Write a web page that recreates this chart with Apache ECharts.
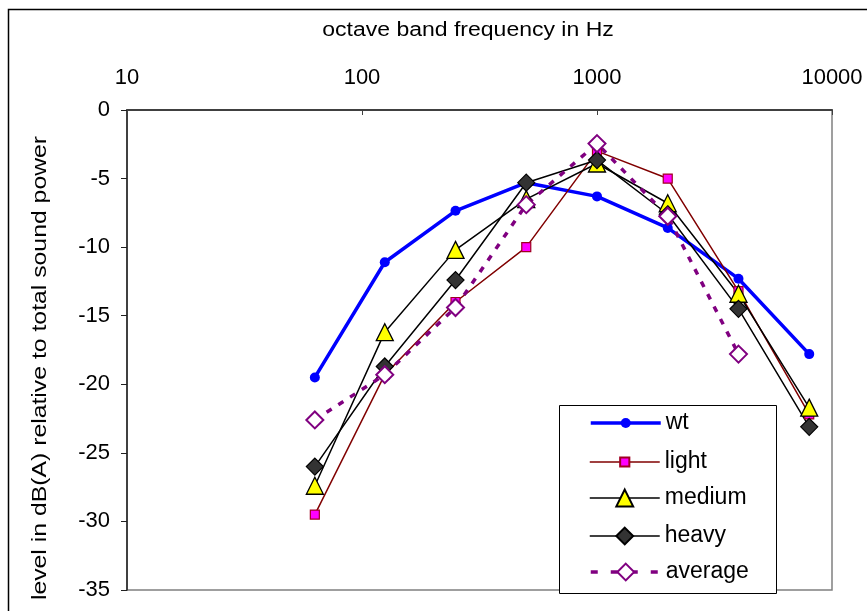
<!DOCTYPE html>
<html>
<head>
<meta charset="utf-8">
<script src="https://cdn.jsdelivr.net/npm/echarts@6/dist/echarts.min.js"></script>
<style>
html,body{margin:0;padding:0;background:#fff;}
#chart{width:867px;height:611px;}
</style>
</head>
<body>
<div id="chart"></div>
<script>
var frequencies = [63, 125, 250, 500, 1000, 2000, 4000, 8000];
var wt      = [-19.5, -11.1, -7.35, -5.3, -6.3, -8.6, -12.3, -17.8];
var light   = [-29.5, -19.3, -14.0, -10.0, -3.0, -5.0, -13.2, -22.2];
var medium  = [-27.4, -16.2, -10.2, -6.5, -3.9, -6.8, -13.4, -21.7];
var heavy   = [-26.0, -18.7, -12.4, -5.3, -3.65, -7.6, -14.5, -23.1];
var average = [-22.6, -19.3, -14.4, -6.9, -2.45, -7.75, -17.8, null];
var seriesNames = ['wt', 'light', 'medium', 'heavy', 'average'];
var xTickLabels = ['10', '100', '1000', '10000'];
var xTitle = 'octave band frequency in Hz';
var yTitle = 'level in dB(A) relative to total sound power';

function pairs(vals) {
  var out = [];
  for (var i = 0; i < frequencies.length; i++) {
    if (vals[i] !== null && vals[i] !== undefined) out.push([frequencies[i], vals[i]]);
  }
  return out;
}

var FONT = '"Liberation Sans", Arial, sans-serif';

// legend: one legend per row so each icon can keep its own symbol size
var legendRowTops = [411, 450, 486, 524, 560];
var legendIconHeights = [12.5, 11.5, 21, 21, 21];
var legendLineWidths = [3.5, 1.5, 1.5, 1.5, 3.5];
var legendLineTypes = ['solid', 'solid', 'solid', 'solid', [7, 13]];
var legends = seriesNames.map(function (n, i) {
  return {
    orient: 'vertical', left: 589, top: legendRowTops[i], padding: 0,
    itemWidth: 70, itemHeight: legendIconHeights[i], itemGap: 0,
    lineStyle: {width: legendLineWidths[i], type: legendLineTypes[i]},
    textStyle: {fontSize: 23, lineHeight: 24, color: '#000', fontFamily: FONT},
    data: [n]
  };
});

var chart = echarts.init(document.getElementById('chart'), null, {renderer: 'canvas'});
chart.setOption({
  animation: false,
  backgroundColor: '#ffffff',
  grid: {
    left: 127, right: 35, top: 110, bottom: 21,
    show: true, borderColor: '#808080', borderWidth: 1.5,
    containLabel: false, outerBoundsMode: 'none'
  },
  xAxis: {
    type: 'log', logBase: 10, min: 10, max: 10000, position: 'top',
    axisLine: {show: true, lineStyle: {color: '#404040', width: 2}},
    axisTick: {show: true, inside: true, length: 5, lineStyle: {color: '#404040', width: 1}},
    minorTick: {show: false},
    splitLine: {show: false},
    axisLabel: {
      margin: 21, fontSize: 22, color: '#000', fontFamily: FONT,
      formatter: function (v) {
        var idx = Math.round(Math.log10(v)) - 1;
        return xTickLabels[idx] !== undefined ? xTickLabels[idx] : '';
      }
    }
  },
  yAxis: {
    type: 'value', min: -35, max: 0, interval: 5,
    axisLine: {show: true, lineStyle: {color: '#202020', width: 1.5}},
    axisTick: {show: true, inside: false, length: 6, lineStyle: {color: '#202020', width: 1}},
    splitLine: {show: false},
    axisLabel: {margin: 17, fontSize: 22, color: '#000', fontFamily: FONT}
  },
  legend: legends,
  graphic: [
    {type: 'rect', z: 100, silent: true,
     shape: {x: 8.5, y: 9.5, width: 900, height: 700},
     style: {fill: 'none', stroke: '#000', lineWidth: 1.5}},
    {type: 'rect', z: 3, silent: true,
     shape: {x: 559.5, y: 405.5, width: 217, height: 188},
     style: {fill: '#ffffff', stroke: '#000', lineWidth: 1}},
    {type: 'text', x: 468, y: 30, z: 100, silent: true, scaleX: 1.15,
     style: {text: xTitle, fontSize: 20, fontFamily: FONT, fill: '#000',
             align: 'center', verticalAlign: 'middle'}},
    {type: 'text', x: 40, y: 368, rotation: Math.PI / 2, z: 100, silent: true, scaleX: 1.18,
     style: {text: yTitle, fontSize: 21, fontFamily: FONT, fill: '#000',
             align: 'center', verticalAlign: 'middle'}}
  ],
  series: [
    {
      name: 'wt', type: 'line', data: pairs(wt),
      symbol: 'circle', symbolSize: 10,
      lineStyle: {color: '#0000ff', width: 3.5},
      itemStyle: {color: '#0000ff', borderColor: '#0000ff', borderWidth: 0}
    },
    {
      name: 'light', type: 'line', data: pairs(light),
      symbol: 'rect', symbolSize: 9,
      lineStyle: {color: '#800000', width: 1.5},
      itemStyle: {color: '#ff00ff', borderColor: '#a00020', borderWidth: 1.2}
    },
    {
      name: 'medium', type: 'line', data: pairs(medium),
      symbol: 'triangle', symbolSize: 17,
      lineStyle: {color: '#000000', width: 1.5},
      itemStyle: {color: '#ffff00', borderColor: '#000000', borderWidth: 1.3}
    },
    {
      name: 'heavy', type: 'line', data: pairs(heavy),
      symbol: 'diamond', symbolSize: 17,
      lineStyle: {color: '#000000', width: 1.5},
      itemStyle: {color: '#333333', borderColor: '#000000', borderWidth: 1.2}
    },
    {
      name: 'average', type: 'line', data: pairs(average),
      symbol: 'diamond', symbolSize: 17,
      lineStyle: {color: '#800080', width: 3.5, type: [6, 8]},
      itemStyle: {color: '#ffffff', borderColor: '#800080', borderWidth: 2}
    }
  ]
});
</script>
</body>
</html>
